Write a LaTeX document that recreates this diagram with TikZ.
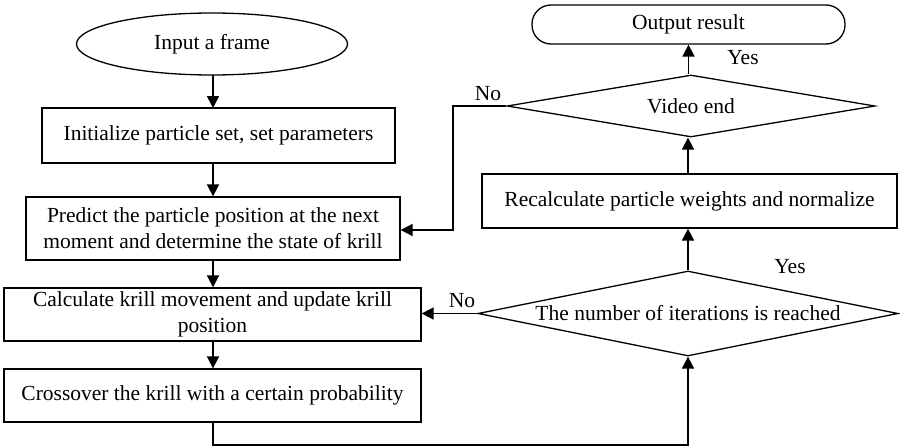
\documentclass[tikz,border=0pt]{standalone}
\usepackage{fontspec}
\setmainfont{Liberation Serif}
\usetikzlibrary{shapes.geometric,arrows.meta}
\begin{document}
\begin{tikzpicture}[x=1pt,y=-1pt,
  every node/.style={font=\fontsize{21.5pt}{26pt}\selectfont, inner sep=0pt},
  proc/.style={draw, line width=1.3pt, rectangle, align=center},
  dec/.style={draw, line width=1.3pt, diamond, align=center},
  arr/.style={line width=1.7pt, -{Triangle[length=12pt,width=12pt]}},
  lnk/.style={line width=1.7pt}]
\useasboundingbox (0,0) rectangle (900,447);
\node[draw, line width=1.3pt, ellipse, minimum width=271pt, minimum height=62pt] (in) at (212,44) {Input a frame};
\node[proc, minimum width=353pt, minimum height=55pt] (init) at (218.5,135.5) {Initialize particle set, set parameters};
\node[proc, minimum width=374pt, minimum height=63pt] (pred) at (213,228.5) {Predict the particle position at the next\\moment and determine the state of krill};
\node[proc, minimum width=417pt, minimum height=53pt] (calc) at (212.5,314.5) {Calculate krill movement and update krill\\position};
\node[proc, minimum width=417pt, minimum height=53pt] (cross) at (212.5,395.5) {Crossover the krill with a certain probability};
\node[dec, minimum width=420pt, minimum height=85pt, aspect=4.94] (iter) at (688,313.5) {The number of iterations is reached};
\node[proc, minimum width=415pt, minimum height=54pt] (recalc) at (689.5,201) {Recalculate particle weights and normalize};
\node[dec, minimum width=368pt, minimum height=62pt, aspect=5.9] (vend) at (691,106) {Video end};
\node[draw, line width=1.3pt, rectangle, rounded corners=19pt, minimum width=313pt, minimum height=39pt] (out) at (688.5,24.5) {Output result};

\coordinate (c1) at (213,445);
\coordinate (c2) at (453,106);

\draw[arr] (213,75) -- (213,108);
\draw[arr] (init.south -| 213,0) -- (pred.north -| 213,0);
\draw[arr] (pred.south -| 213,0) -- (calc.north -| 213,0);
\draw[arr] (calc.south -| 213,0) -- (cross.north -| 213,0);
\draw[arr] (cross.south -| c1) -- (c1) -| (iter.south);
\draw[arr] (iter.west) -- (calc.east |- iter.west);
\draw[arr] (iter.north) -- (recalc.south -| iter.north);
\draw[arr] (recalc.north -| iter.north) -- (vend.south -| iter.north);
\draw[arr] (vend.north -| out.south) -- (out.south);
\draw[arr] (vend.west) -- (c2) |- (pred.east |- 0,230);

\node (no1) at (488,94) {No};
\node (yes1) at (743,58) {Yes};
\node (yes2) at (790,267) {Yes};
\node (no2) at (462,301) {No};
\end{tikzpicture}
\end{document}
